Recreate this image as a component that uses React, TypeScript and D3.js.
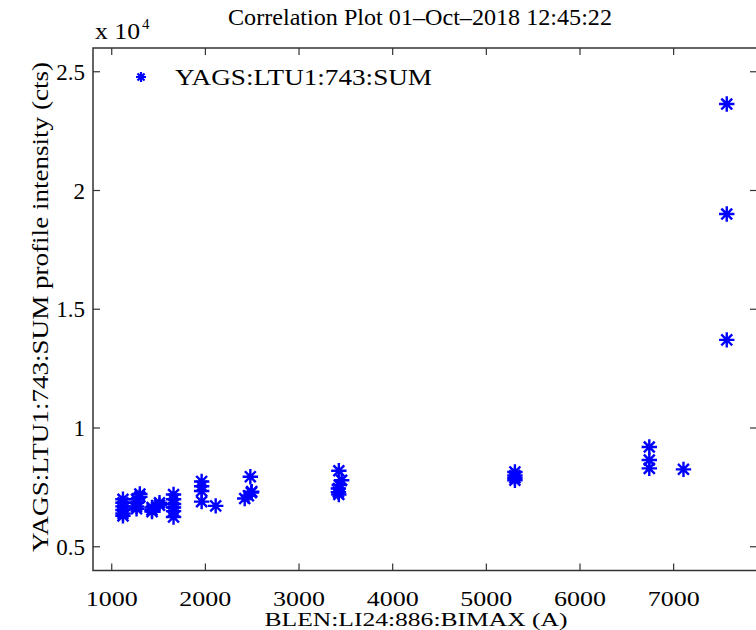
import React from "react";
import * as d3 from "d3";

// BLEN:LI24:886:BIMAX (A) readings
const xValues: number[] = [
  1120, 1120, 1120, 1120, 1120, 1120,
  1265, 1265, 1265, 1265, 1300, 1300,
  1430, 1430, 1430, 1510, 1510,
  1660, 1660, 1660, 1660, 1660, 1660,
  1960, 1960, 1960, 1960,
  2110,
  2420, 2460, 2490, 2495, 2480,
  3425, 3455, 3430, 3420, 3420, 3425,
  5305, 5305, 5305, 5305,
  6740, 6740, 6740, 7105,
  7567, 7567, 7567,
];

// YAGS:LTU1:743:SUM profile intensity (cts), in units of 1e4
const yValues: number[] = [
  0.70, 0.685, 0.67, 0.655, 0.64, 0.63,
  0.70, 0.685, 0.67, 0.66, 0.722, 0.71,
  0.665, 0.655, 0.648, 0.685, 0.675,
  0.72, 0.70, 0.68, 0.665, 0.65, 0.625,
  0.775, 0.755, 0.735, 0.69,
  0.672,
  0.703, 0.715, 0.728, 0.732, 0.795,
  0.82, 0.78, 0.76, 0.745, 0.73, 0.72,
  0.815, 0.80, 0.79, 0.78,
  0.92, 0.865, 0.83, 0.826,
  2.364, 1.901, 1.371,
];

const xTicks: number[] = [1000, 2000, 3000, 4000, 5000, 6000, 7000];
const yTicks: number[] = [0.5, 1, 1.5, 2, 2.5];
const yTickLabels: string[] = ["0.5", "1", "1.5", "2", "2.5"];

const seriesName = "YAGS:LTU1:743:SUM";
const titleText = "Correlation Plot 01\u2013Oct\u20132018 12:45:22";
const xLabel = "BLEN:LI24:886:BIMAX  (A)";
const yLabel = "YAGS:LTU1:743:SUM profile intensity (cts)";

const W = 756;
const H = 630;
const left = 93;
const right = 757;
const top = 48;
const bottom = 570.5;
const FONT = "'Liberation Serif', 'Times New Roman', serif";
const BLUE = "#0000ff";
const AXIS = "#333";

function starPath(r: number): string {
  const d = r * 0.7071;
  return `M${-r},0L${r},0M0,${-r}L0,${r}M${-d},${-d}L${d},${d}M${-d},${d}L${d},${-d}`;
}

export default function App() {
  const x = d3.scaleLinear().domain([800, 7890]).range([left, right]);
  const y = d3.scaleLinear().domain([0.4, 2.6]).range([bottom, top]);
  const star = starPath(6.5);
  const tickLen = 7;

  return (
    <svg
      width={W}
      height={H}
      style={{ position: "absolute", left: 0, top: 0, background: "#fff" }}
      fontFamily={FONT}
    >
      <rect x={0} y={0} width={W} height={H} fill="#fff" />

      {/* title */}
      <text
        x={420}
        y={25}
        fontSize={23}
        textAnchor="middle"
        fill="#000"
        textLength={384}
        lengthAdjust="spacingAndGlyphs"
      >
        {titleText}
      </text>

      {/* exponent label */}
      <text x={95} y={39} fontSize={23} fill="#000" textLength={45} lengthAdjust="spacingAndGlyphs">
        x 10
      </text>
      <text x={142} y={29} fontSize={15} fill="#000">
        4
      </text>

      {/* axes box */}
      <rect
        x={left}
        y={top}
        width={right - left}
        height={bottom - top}
        fill="none"
        stroke={AXIS}
        strokeWidth={1.5}
      />

      {/* x ticks, bottom and top */}
      {xTicks.map((t) => (
        <g key={`xt${t}`}>
          <line x1={x(t)} x2={x(t)} y1={bottom} y2={bottom - tickLen} stroke={AXIS} strokeWidth={1.2} />
          <line x1={x(t)} x2={x(t)} y1={top} y2={top + tickLen} stroke={AXIS} strokeWidth={1.2} />
          <text
            x={x(t)}
            y={606}
            fontSize={20}
            textAnchor="middle"
            fill="#000"
            textLength={52}
            lengthAdjust="spacingAndGlyphs"
          >
            {t}
          </text>
        </g>
      ))}

      {/* y ticks, left and right */}
      {yTicks.map((t, i) => (
        <g key={`yt${t}`}>
          <line x1={left} x2={left + tickLen} y1={y(t)} y2={y(t)} stroke={AXIS} strokeWidth={1.2} />
          <line x1={right} x2={right - tickLen} y1={y(t)} y2={y(t)} stroke={AXIS} strokeWidth={1.2} />
          <text x={85} y={y(t) + 8} fontSize={23} textAnchor="end" fill="#000">
            {yTickLabels[i]}
          </text>
        </g>
      ))}

      {/* axis labels */}
      <text
        x={416}
        y={626}
        fontSize={19}
        textAnchor="middle"
        fill="#000"
        textLength={303}
        lengthAdjust="spacingAndGlyphs"
      >
        {xLabel}
      </text>
      <text
        transform={`translate(48, 307) rotate(-90)`}
        fontSize={23}
        textAnchor="middle"
        fill="#000"
        textLength={490}
        lengthAdjust="spacingAndGlyphs"
      >
        {yLabel}
      </text>

      {/* data markers */}
      <g stroke={BLUE} strokeWidth={2.4} fill="none" strokeLinecap="square">
        {xValues.map((xv, i) => (
          <path key={i} d={star} transform={`translate(${x(xv)},${y(yValues[i])})`} />
        ))}
      </g>

      {/* legend */}
      <path d={starPath(5)} transform="translate(141,77)" stroke={BLUE} strokeWidth={2.2} fill="none" />
      <text
        x={175}
        y={85}
        fontSize={24}
        fill="#000"
        textLength={257}
        lengthAdjust="spacingAndGlyphs"
      >
        {seriesName}
      </text>
    </svg>
  );
}
